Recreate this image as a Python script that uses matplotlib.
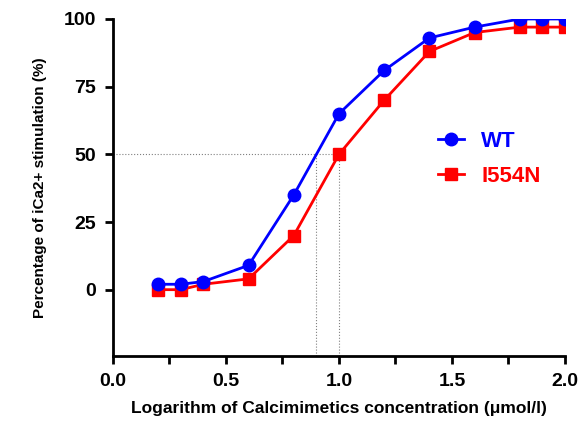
import matplotlib.pyplot as plt

# concentration (log) and responses
log_conc = [0.2, 0.3, 0.4, 0.6, 0.8, 1.0, 1.2, 1.4, 1.6, 1.8, 1.9, 2.0]
wt = [2, 2, 3, 9, 35, 65, 81, 93, 97, 100, 100, 100]
i554n = [0, 0, 2, 4, 20, 50, 70, 88, 95, 97, 97, 97]
ec50_wt = 0.9
ec50_mut = 1.0

plt.rcParams['font.family'] = ['Liberation Sans', 'DejaVu Sans']

fig = plt.figure(figsize=(5.87, 4.21), dpi=100)
ax = fig.add_axes([0.1925, 0.1544, 0.77, 0.8005])

ymin = -24.5
ax.plot([0, ec50_mut], [50, 50], color='gray', ls=':', lw=0.8)
ax.plot([ec50_wt, ec50_wt], [ymin, 50], color='gray', ls=':', lw=0.8)
ax.plot([ec50_mut, ec50_mut], [ymin, 50], color='gray', ls=':', lw=0.8)

ax.plot(log_conc, i554n, color='red', marker='s', markersize=9, lw=2, label='I554N')
ax.plot(log_conc, wt, color='blue', marker='o', markersize=9, lw=2, label='WT')

ax.set_xlim(0, 2.0)
ax.set_ylim(ymin, 100)
ax.set_xticks([0, 0.5, 1.0, 1.5, 2.0])
ax.set_xticklabels(['0.0', '0.5', '1.0', '1.5', '2.0'])
ax.set_xticks([0.25, 0.75, 1.25, 1.75], minor=True)
ax.set_yticks([0, 25, 50, 75, 100])

for s in ['top', 'right']:
    ax.spines[s].set_visible(False)
for s in ['left', 'bottom']:
    ax.spines[s].set_linewidth(2)
ax.tick_params(which='major', length=6, width=2, labelsize=14, pad=6)
ax.tick_params(which='minor', length=6, width=2)
for lab in ax.get_xticklabels() + ax.get_yticklabels():
    lab.set_fontweight('bold')

ax.set_xlabel('Logarithm of Calcimimetics concentration (μmol/l)', fontsize=12.5, fontweight='bold', labelpad=8)
ax.set_ylabel('Percentage of iCa2+ stimulation (%)', fontsize=11, fontweight='semibold', labelpad=12)

handles, labels = ax.get_legend_handles_labels()
leg = ax.legend(handles[::-1], labels[::-1], loc='center left', bbox_to_anchor=(0.675, 0.585),
                frameon=False, fontsize=16, handlelength=1.15, handletextpad=0.8, labelspacing=0.6)
for txt, c in zip(leg.get_texts(), ['blue', 'red']):
    txt.set_color(c)
    txt.set_fontweight('bold')

fig.savefig('out.png', dpi=100)
